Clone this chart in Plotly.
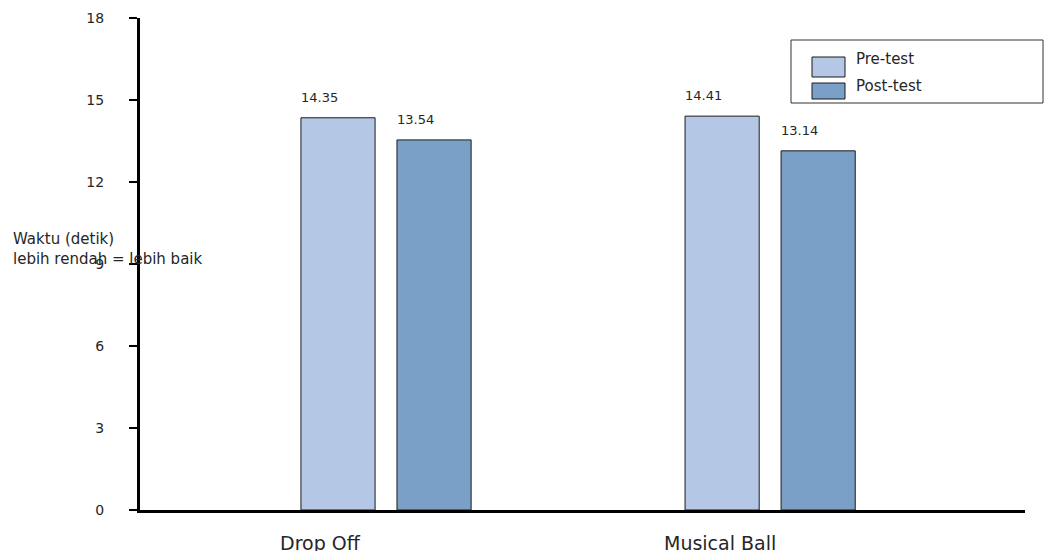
import plotly.graph_objects as go

categories = ["Drop Off", "Musical Ball"]
series_names = ["Pre-test", "Post-test"]
pre_test = [14.35, 14.41]
post_test = [13.54, 13.14]
y_ticks = [0, 3, 6, 9, 12, 15, 18]
y_title = "Waktu (detik)<br>lebih rendah = lebih baik"

colors = ["#b4c7e5", "#7aa0c8"]
FONT = "DejaVu Sans"
TXT = "#262626"

W, H = 1045, 551
L, R, T, B = 140, 20, 18, 41
pw, ph = W - L - R, H - T - B

xs = list(range(len(categories)))
bar_w = 0.193
offsets = [-0.221, 0.029]

fig = go.Figure()
for name, vals, col, off in zip(series_names, [pre_test, post_test], colors, offsets):
    fig.add_trace(go.Bar(
        x=xs, y=vals, name=name, width=bar_w, offset=off,
        marker=dict(color=col, line=dict(color="#1a1a1a", width=1)),
        showlegend=False,
    ))


def px_x(p):
    return (p - L) / pw


def px_y(p):
    return (H - B - p) / ph


annotations = []
# value labels
for vals, off in zip([pre_test, post_test], offsets):
    for x, v in zip(xs, vals):
        annotations.append(dict(
            x=x + off, y=v, xref="x", yref="y", text=f"{v:.2f}",
            xanchor="left", yanchor="bottom", yshift=11, xshift=-2, showarrow=False,
            font=dict(family=FONT, size=13, color=TXT)))
# category labels
for x, c in zip(xs, categories):
    annotations.append(dict(
        x=x, y=0, xref="x", yref="y", text=c, xanchor="left", yanchor="middle",
        xshift=-108, yshift=-33, showarrow=False,
        font=dict(family=FONT, size=19, color=TXT)))
# y title
annotations.append(dict(
    x=px_x(11), y=px_y(249), xref="paper", yref="paper",
    text=y_title, xanchor="left", yanchor="middle", align="left",
    showarrow=False, font=dict(family=FONT, size=15, color=TXT)))

# custom legend
shapes = [dict(type="rect", xref="paper", yref="paper",
               x0=px_x(791), x1=px_x(1043), y0=px_y(103), y1=px_y(40),
               line=dict(color="#333333", width=1), fillcolor="white", layer="above")]
sw_y = [(57, 77), (83, 99)]
txt_y = [59, 86]
for (y0, y1), ty, name, col in zip(sw_y, txt_y, series_names, colors):
    shapes.append(dict(type="rect", xref="paper", yref="paper",
                       x0=px_x(812), x1=px_x(845), y0=px_y(y1), y1=px_y(y0),
                       line=dict(color="#1a1a1a", width=1), fillcolor=col, layer="above"))
    annotations.append(dict(x=px_x(854), y=px_y(ty), xref="paper", yref="paper",
                            text=name, xanchor="left", yanchor="middle", showarrow=False,
                            font=dict(family=FONT, size=15, color=TXT)))

fig.update_layout(
    width=W, height=H,
    margin=dict(l=L, r=R, t=T, b=B, autoexpand=False),
    paper_bgcolor="white", plot_bgcolor="white",
    font=dict(family=FONT, size=14, color=TXT),
    barmode="overlay",
    annotations=annotations, shapes=shapes,
    xaxis=dict(range=[-0.64, 1.664], showticklabels=False, ticks="",
               showgrid=False, zeroline=False, showline=True,
               linecolor="black", linewidth=3, fixedrange=True),
    yaxis=dict(range=[0, 18], tickvals=y_ticks, ticks="outside", ticklen=8,
               tickwidth=2, tickcolor="black", showgrid=False, zeroline=False,
               showline=True, linecolor="black", linewidth=3,
               ticklabelstandoff=22, tickfont=dict(family=FONT, size=14, color=TXT)),
)

fig.write_html(
    "out.html",
    config={"displayModeBar": False},
    post_script="document.body.style.margin='0';document.body.style.overflow='hidden';",
)
